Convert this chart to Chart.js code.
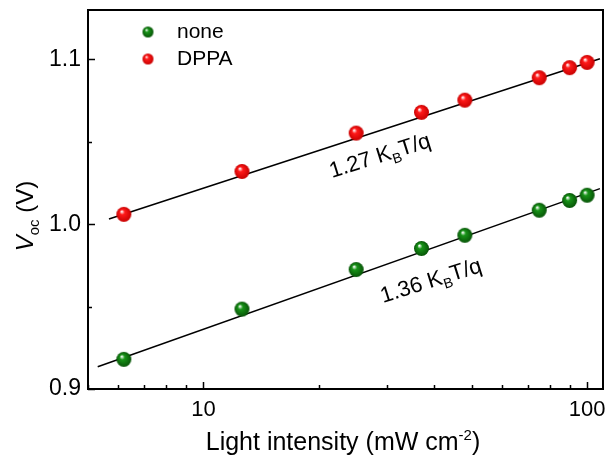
<!DOCTYPE html>
<html>
<head>
<meta charset="utf-8">
<script src="https://cdn.jsdelivr.net/npm/chart.js@4/dist/chart.umd.min.js"></script>
<style>
  html, body { margin: 0; background: #fff; }
</style>
</head>
<body>
<canvas id="chart" width="610" height="461"></canvas>
<script>
// light intensity (mW cm-2) and Voc (V)
const intensity = [6.2, 12.6, 25, 37, 48, 75, 90, 100];
const vocNone = [0.918, 0.9485, 0.9725, 0.9853, 0.9933, 1.0085, 1.0144, 1.0176];
const vocDPPA = [1.006, 1.032, 1.0553, 1.0679, 1.0753, 1.0889, 1.095, 1.0982];

// fitted lines, end points
const fitNoneX = [5.3, 108];
const fitNoneY = [0.9135, 1.0216];
const fitDPPAX = [5.67, 108];
const fitDPPAY = [1.0032, 1.1004];

const xMajor = [10, 100];
const xMinor = [5, 6, 7, 8, 9, 20, 30, 40, 50, 60, 70, 80, 90];
const yMajor = [0.9, 1.0, 1.1];
const yMinor = [0.95, 1.05];

const FONT = "'Liberation Sans', Arial, sans-serif";

// shaded sphere marker
function ball(color, dark, r) {
  const c = document.createElement("canvas");
  c.width = c.height = Math.ceil(r * 2 + 2);
  const g = c.getContext("2d");
  const m = c.width / 2;
  const grad = g.createRadialGradient(m - r * 0.3, m - r * 0.4, r * 0.05, m, m, r);
  grad.addColorStop(0, "#ffffff");
  grad.addColorStop(0.3, color);
  grad.addColorStop(1, dark);
  g.fillStyle = grad;
  g.beginPath();
  g.arc(m, m, r, 0, Math.PI * 2);
  g.fill();
  return c;
}

const greenBall = ball("#189418", "#075407", 7.5);
const redBall = ball("#ff1a1a", "#c80000", 7.5);
const greenSmall = ball("#189418", "#075407", 5.5);
const redSmall = ball("#ff1a1a", "#c80000", 5.5);

const pts = (xs, ys) => xs.map((x, i) => ({ x: x, y: ys[i] }));

// text with sub/superscript pieces: [text, size, dy, italic]
function drawRich(ctx, parts, x, y) {
  let cx = x;
  parts.forEach((p) => {
    ctx.font = (p[3] ? "italic " : "") + p[1] + "px " + FONT;
    ctx.fillText(p[0], cx, y + p[2]);
    cx += ctx.measureText(p[0]).width;
  });
}
function richWidth(ctx, parts) {
  let w = 0;
  parts.forEach((p) => {
    ctx.font = (p[3] ? "italic " : "") + p[1] + "px " + FONT;
    w += ctx.measureText(p[0]).width;
  });
  return w;
}

function noPad(s) {
  s.paddingLeft = 0;
  s.paddingRight = 0;
  s.paddingTop = 0;
  s.paddingBottom = 0;
}

const decorPlugin = {
  id: "decor",
  afterDraw(chart) {
    const ctx = chart.ctx;
    const a = chart.chartArea;
    const xs = chart.scales.x;
    const ys = chart.scales.y;
    ctx.save();
    ctx.fillStyle = "#000";
    ctx.strokeStyle = "#000";

    // frame
    ctx.lineWidth = 2;
    ctx.strokeRect(a.left, a.top, a.right - a.left, a.bottom - a.top);

    // inward ticks
    ctx.lineWidth = 1.5;
    ctx.beginPath();
    xMajor.forEach((v) => {
      const px = Math.round(xs.getPixelForValue(v)) + 0.5;
      ctx.moveTo(px, a.bottom); ctx.lineTo(px, a.bottom - 7);
    });
    xMinor.forEach((v) => {
      const px = Math.round(xs.getPixelForValue(v)) + 0.5;
      ctx.moveTo(px, a.bottom); ctx.lineTo(px, a.bottom - 4);
    });
    yMajor.forEach((v) => {
      const py = Math.round(ys.getPixelForValue(v)) + 0.5;
      ctx.moveTo(a.left, py); ctx.lineTo(a.left + 7, py);
    });
    yMinor.forEach((v) => {
      const py = Math.round(ys.getPixelForValue(v)) + 0.5;
      ctx.moveTo(a.left, py); ctx.lineTo(a.left + 4, py);
    });
    ctx.stroke();

    // legend
    const ds = chart.data.datasets;
    const marks = [greenSmall, redSmall];
    ctx.textBaseline = "alphabetic";
    ctx.textAlign = "left";
    [0, 1].forEach((i) => {
      const cy = 32 + i * 27;
      ctx.drawImage(marks[i], 148 - marks[i].width / 2, cy - marks[i].height / 2);
      ctx.font = "21px " + FONT;
      ctx.fillText(ds[i].label, 177, cy + 6);
    });

    // slope labels
    const ang = -17.5 * Math.PI / 180;
    [["1.27", 332, 178], ["1.36", 383, 303]].forEach((s) => {
      ctx.save();
      ctx.translate(s[1], s[2]);
      ctx.rotate(ang);
      drawRich(ctx, [[s[0] + " K", 22, 0], ["B", 14, 5], ["T/q", 22, 0]], 0, 0);
      ctx.restore();
    });

    // x title
    const xt = [["Light intensity (mW cm", 25, 0], ["-2", 15, -10], [")", 25, 0]];
    const xw = richWidth(ctx, xt);
    drawRich(ctx, xt, 343 - xw / 2, 450);

    // y title
    const yt = [["V", 24, 0, true], ["oc", 15, 6], [" (V)", 24, 0]];
    const yw = richWidth(ctx, yt);
    ctx.save();
    ctx.translate(33, 216);
    ctx.rotate(-Math.PI / 2);
    drawRich(ctx, yt, -yw / 2, 0);
    ctx.restore();

    ctx.restore();
  },
};

new Chart(document.getElementById("chart"), {
  type: "scatter",
  data: {
    datasets: [
      {
        label: "none",
        data: pts(intensity, vocNone),
        pointStyle: greenBall,
        showLine: false,
      },
      {
        label: "DPPA",
        data: pts(intensity, vocDPPA),
        pointStyle: redBall,
        showLine: false,
      },
      {
        label: "fit none",
        data: pts(fitNoneX, fitNoneY),
        showLine: true,
        pointRadius: 0,
        borderColor: "#000",
        borderWidth: 1.5,
      },
      {
        label: "fit DPPA",
        data: pts(fitDPPAX, fitDPPAY),
        showLine: true,
        pointRadius: 0,
        borderColor: "#000",
        borderWidth: 1.5,
      },
    ],
  },
  options: {
    responsive: false,
    animation: false,
    devicePixelRatio: 1,
    layout: { padding: { top: 10, right: 7, left: 0, bottom: 0 } },
    plugins: {
      legend: { display: false },
      tooltip: { enabled: false },
    },
    scales: {
      x: {
        type: "logarithmic",
        min: 5,
        max: 110,
        grid: { display: false, drawTicks: false },
        border: { display: false },
        afterBuildTicks: (s) => { s.ticks = xMajor.map((v) => ({ value: v })); },
        afterFit: (s) => { s.height = 72; noPad(s); },
        ticks: {
          autoSkip: false,
          maxRotation: 0,
          padding: 8,
          color: "#000",
          font: { size: 22, family: FONT },
          callback: (v) => String(v),
        },
      },
      y: {
        min: 0.9,
        max: 1.13,
        grid: { display: false, drawTicks: false },
        border: { display: false },
        afterBuildTicks: (s) => { s.ticks = yMajor.map((v) => ({ value: v })); },
        afterFit: (s) => { s.width = 88; noPad(s); },
        ticks: {
          padding: 7,
          color: "#000",
          font: { size: 23, family: FONT },
          callback: (v) => v.toFixed(1),
        },
      },
    },
  },
  plugins: [decorPlugin],
});
</script>
</body>
</html>
